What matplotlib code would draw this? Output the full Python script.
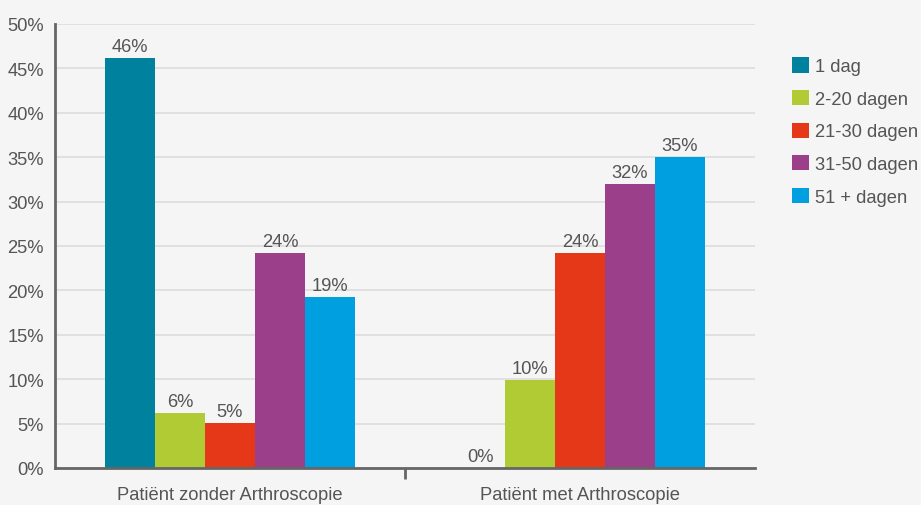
import matplotlib
matplotlib.use("Agg")
import matplotlib.pyplot as plt
from matplotlib.patches import Patch
import numpy as np

categories = ["Patiënt zonder Arthroscopie", "Patiënt met Arthroscopie"]
series_names = ["1 dag", "2-20 dagen", "21-30 dagen", "31-50 dagen", "51 + dagen"]
series_values = [
    [46.2, 0.0],
    [6.2, 9.9],
    [5.1, 24.2],
    [24.2, 32.0],
    [19.3, 35.0],
]
colors = ["#00819E", "#B1CB34", "#E43818", "#9B3F8A", "#009FE0"]
yticks = [0, 5, 10, 15, 20, 25, 30, 35, 40, 45, 50]

plt.rcParams['font.family'] = ['Liberation Sans', 'DejaVu Sans']
txt = "#555555"
bg = "#F5F5F5"
fs = 13.2

fig = plt.figure(figsize=(9.21, 5.06), dpi=100, facecolor=bg)
ax = fig.add_axes([55/921, 1-469/506, 700/921, 444/506], facecolor=bg)

x = np.arange(len(categories))
bw = 50/350
n = len(series_names)
for i, (name, vals, c) in enumerate(zip(series_names, series_values, colors)):
    pos = x + (i - (n-1)/2) * bw
    ax.bar(pos, vals, width=bw, color=c, zorder=3, linewidth=0)
    for p, v in zip(pos, vals):
        ax.text(p, v + 0.35, f"{round(v)}%", ha="center", va="bottom",
                fontsize=fs, color=txt, zorder=4)

ax.set_xlim(-0.5, 1.5)
ax.set_ylim(0, 50)
ax.set_yticks(yticks)
ax.set_yticklabels([f"{t}%" for t in yticks])
ax.yaxis.grid(True, color="#DCDCDC", linewidth=1.2, zorder=0)
ax.tick_params(axis="y", length=0, labelsize=fs, labelcolor=txt, pad=8)
ax.set_xticks([0.5])
ax.set_xticklabels([""])
ax.tick_params(axis="x", length=8, width=2, color="#666666", direction="out")
for c_, xx in zip(categories, x):
    ax.text(xx, -2.0, c_, ha="center", va="top", fontsize=fs, color=txt)

for s in ["top", "right"]:
    ax.spines[s].set_visible(False)
for s in ["left", "bottom"]:
    ax.spines[s].set_color("#666666")
    ax.spines[s].set_linewidth(2)
    ax.spines[s].set_zorder(5)

handles = [Patch(facecolor=c, edgecolor="none") for c in colors]
leg = fig.legend(handles, series_names, loc="upper left",
                 bbox_to_anchor=(785/921, 1-51/506), frameon=False,
                 fontsize=fs, labelcolor=txt, handlelength=0.9, handleheight=0.9,
                 handletextpad=0.35, labelspacing=0.8, borderaxespad=0)

fig.savefig("out.png", dpi=100, facecolor=bg)
